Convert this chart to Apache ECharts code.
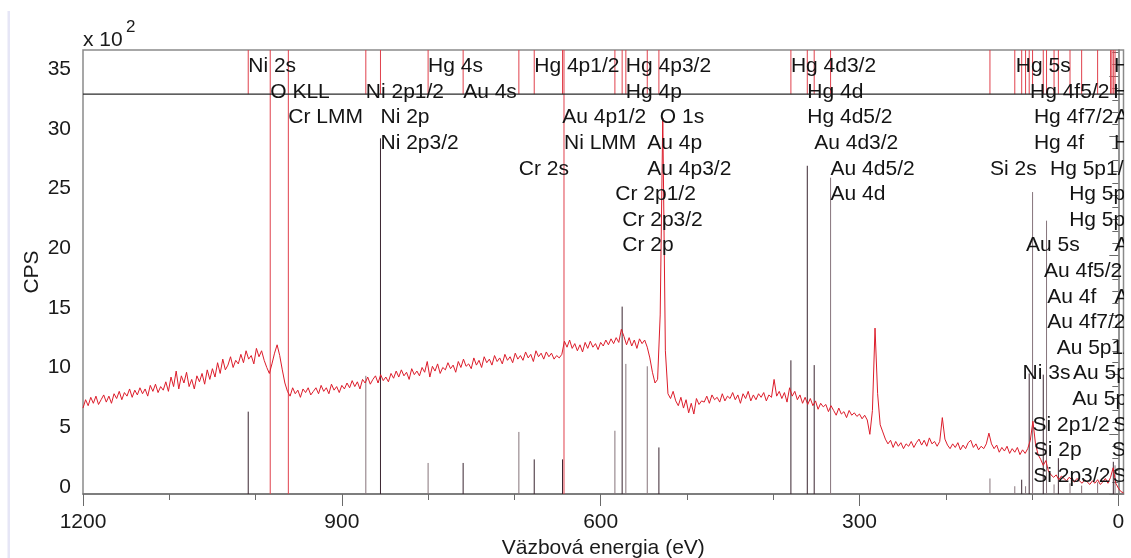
<!DOCTYPE html>
<html>
<head>
<meta charset="utf-8">
<script src="https://cdn.jsdelivr.net/npm/echarts@6.0.0/dist/echarts.min.js"></script>
<style>
  html, body { margin: 0; padding: 0; background: #ffffff; }
  #chart { width: 1131px; height: 558px; }
</style>
</head>
<body>
<div id="chart"></div>
<script>
// XPS survey spectrum, intensity in units of 100 CPS on a 3 eV grid starting at 1200 eV
const energyStart = 1200;
const energyStep = 3;
const cps = [
  7.2, 7.9, 7.4, 8.1, 7.6, 8.2, 7.5, 7.9, 8.3, 7.7,
  8.2, 7.6, 8.4, 8.0, 8.6, 7.9, 8.5, 8.2, 8.8, 8.1,
  8.7, 8.3, 8.9, 8.4, 8.8, 8.2, 9.1, 8.6, 9.2, 8.5,
  9.0, 8.7, 9.4, 8.6, 9.8, 9.0, 10.3, 8.8, 9.9, 9.3,
  10.2, 9.0, 9.6, 8.8, 9.9, 9.4, 10.1, 9.2, 10.4, 9.6,
  10.5, 9.8, 11.0, 10.1, 11.3, 10.4, 10.8, 11.5, 10.6, 11.2,
  10.9, 11.7, 11.0, 12.0, 11.3, 11.6, 10.9, 12.2, 11.5, 12.0,
  11.2, 10.6, 10.1, 10.9, 11.8, 12.5, 11.6, 10.4, 9.3, 8.6,
  8.2, 8.9, 8.4, 8.7, 8.1, 8.8, 8.5, 8.9, 8.3, 8.6,
  8.9, 8.4, 9.1, 8.6, 8.9, 8.4, 9.2, 8.7, 9.0, 8.5,
  9.1, 8.8, 9.3, 8.9, 9.5, 9.0, 9.4, 8.8, 9.6, 9.3,
  9.8, 9.2, 9.6, 9.9, 9.3, 10.0, 9.5, 9.8, 9.4, 10.1,
  9.7, 10.3, 9.8, 10.4, 9.9, 10.2, 9.6, 10.5, 10.0, 10.3,
  9.9, 10.6, 10.2, 11.1, 9.8, 10.7, 10.3, 10.9, 10.1, 10.6,
  10.4, 11.0, 10.5, 10.8, 10.2, 11.1, 10.6, 11.3, 10.7, 10.9,
  10.5, 11.4, 10.8, 11.2, 10.6, 11.5, 11.0, 11.3, 10.8, 11.6,
  11.1, 11.4, 10.9, 11.7, 11.2, 11.5, 11.0, 11.8, 11.3, 11.6,
  11.2, 11.9, 11.4, 11.7, 11.1, 12.0, 11.5, 11.8, 11.3, 11.9,
  11.5, 11.8, 11.3, 11.6, 11.4, 11.7, 12.8, 12.3, 12.9, 12.2,
  12.6, 12.0, 12.5, 11.9, 12.7, 12.2, 12.8, 12.3, 12.6, 12.1,
  12.7, 12.4, 12.9, 12.5, 13.0, 12.6, 13.1, 12.7, 13.8, 13.2,
  12.5, 13.1, 12.4, 12.9, 12.2, 13.0, 12.6, 12.9, 12.3, 11.4,
  10.2, 9.3, 9.6, 15.0, 31.5, 12.0, 8.4, 8.0, 8.6, 7.8,
  7.4, 8.1, 7.2, 7.9, 6.8, 7.6, 6.7, 8.0, 7.5, 7.8,
  7.7, 8.2, 7.6, 8.3, 7.9, 8.1, 7.7, 8.4, 7.8, 8.2,
  8.0, 8.5, 7.9, 8.3, 7.6, 8.4, 8.0, 8.6, 7.8, 8.3,
  7.9, 8.4, 8.1, 8.5, 7.8, 8.3, 8.1, 9.6, 8.2, 8.6,
  8.0, 8.5, 7.7, 8.9, 8.2, 8.6, 7.9, 8.3, 7.6, 8.1,
  7.5, 8.0, 7.4, 7.8, 7.1, 7.6, 7.3, 7.5, 6.9, 7.4,
  7.0, 6.6, 7.2, 6.7, 6.9, 6.4, 7.0, 6.6, 6.8, 6.5,
  6.7, 6.3, 6.6, 6.2, 5.0, 7.0, 13.9, 8.4, 5.8, 5.2,
  4.6, 4.2, 4.5, 3.9, 4.4, 4.0, 4.3, 3.8, 4.2, 4.0,
  4.4, 3.9, 4.3, 4.6, 4.1, 4.5, 4.0, 4.7, 4.2, 4.4,
  4.0, 4.4, 6.4, 4.6, 4.1, 3.8, 4.2, 3.9, 4.3, 3.7,
  4.1, 3.8, 4.3, 4.5, 3.9, 4.2, 3.7, 4.0, 3.8, 4.2,
  5.1, 4.2, 3.8, 4.1, 3.5, 3.9, 3.6, 4.0, 3.4, 3.8,
  3.5, 3.9, 3.3, 3.7, 3.4, 3.8, 4.5, 6.1, 4.2, 3.3,
  2.9, 2.4, 2.8, 1.9, 1.6, 1.4, 1.6, 1.2, 1.5, 1.3,
  1.1, 1.4, 1.2, 1.0, 1.3, 1.1, 0.9, 1.2, 1.0, 0.8,
  1.1, 0.9, 1.2, 0.8, 1.0, 1.3, 0.9, 1.4, 2.2, 0.9,
  0.5, 0.2, 0.1
];

// Reference line positions [binding energy eV, relative height in 100 CPS]
const sticksDark = [
  [1008.5, 6.9], [855.2, 29.8], [759.4, 2.6], [677, 2.9], [644.2, 2.9],
  [575.1, 15.7], [532.5, 3.9], [379.5, 11.2], [360.5, 27.5], [352.5, 10.8],
  [112, 1.2], [103.3, 10.1], [87, 10.0], [69.5, 3.0], [5.8, 2.7]
];
const sticksGray = [
  [872.2, 9.9], [800, 2.6], [694.8, 5.2], [583.5, 5.3], [570.8, 10.9],
  [546, 10.7], [333.5, 26.5], [148.8, 1.3], [120, 0.65], [107.5, 0.65],
  [99.4, 25.3], [83.2, 22.9], [74.5, 0.8], [56, 0.9], [42.5, 0.7],
  [24, 1.0], [3.8, 2.4]
];
// Auger transitions drawn across the whole plot
const augerLines = [983, 962, 642.5];
// Valence-band markers shown only in the label band
const bandOnlyMarkers = [9, 7.5];

// Peak annotations: [text, binding energy of the left edge, stacking row]
const peakLabels = [
  ['Ni 2s', 1008.5, 0], ['Hg 4s', 800, 0], ['Hg 4p1/2', 677, 0], ['Hg 4p3/2', 570.8, 0],
  ['Hg 4d3/2', 379.5, 0], ['Hg 5s', 118.8, 0], ['Hg 5d3/2', 5, 0],
  ['O KLL', 983, 1], ['Ni 2p1/2', 872.2, 1], ['Au 4s', 759.4, 1], ['Hg 4p', 570.8, 1],
  ['Hg 4d', 360.5, 1], ['Hg 4f5/2', 102.4, 1], ['Hg 5d', 5.8, 1],
  ['Cr LMM', 962, 2], ['Ni 2p', 855.2, 2], ['Au 4p1/2', 644.6, 2], ['O 1s', 531.4, 2],
  ['Hg 4d5/2', 360.5, 2], ['Hg 4f7/2', 97.8, 2], ['Au 5d3/2', 4.4, 2],
  ['Ni 2p3/2', 855.2, 3], ['Ni LMM', 642.5, 3], ['Au 4p', 546, 3], ['Au 4d3/2', 352.5, 3],
  ['Hg 4f', 97.8, 3], ['Hg 5d5/2', 5, 3],
  ['Cr 2s', 694.8, 4], ['Au 4p3/2', 546, 4], ['Au 4d5/2', 333.5, 4], ['Si 2s', 148.8, 4],
  ['Hg 5p1/2', 79.2, 4],
  ['Cr 2p1/2', 583, 5], ['Au 4d', 333.5, 5], ['Hg 5p', 57, 5],
  ['Cr 2p3/2', 575, 6], ['Hg 5p3/2', 57, 6],
  ['Cr 2p', 575, 7], ['Au 5s', 107, 7], ['Au 5d', 4.4, 7],
  ['Au 4f5/2', 86.2, 8],
  ['Au 4f', 82.4, 9], ['Au 5d5/2', 4.4, 9],
  ['Au 4f7/2', 82.4, 10],
  ['Au 5p1/2', 71.5, 11],
  ['Ni 3s', 111, 12], ['Au 5p', 52.6, 12],
  ['Au 5p3/2', 53.3, 13],
  ['Si 2p1/2', 99.4, 14], ['Si 3s', 5.8, 14],
  ['Si 2p', 98, 15], ['Si 3p', 7.6, 15],
  ['Si 2p3/2', 98.6, 16], ['Si 3p3/2', 6.5, 16]
];

// Axis ticks
const xLabelValues = [0, 300, 600, 900, 1200];
const xMinorTicks = [100, 200, 400, 500, 700, 800, 1000, 1100];
const yLabelValues = [0, 5, 10, 15, 20, 25, 30, 35];
const yMinorTicks = [1, 2, 3, 4, 6, 7, 8, 9, 11, 12, 13, 14, 16, 17, 18, 19,
  21, 22, 23, 24, 26, 27, 28, 29, 31, 32, 33, 34, 36, 37];

const xMin = -6, xMax = 1200, yMin = 0, yMax = 37.2;
const bandFloor = 33.5;

const FONT = "'Liberation Sans', Arial, Helvetica, sans-serif";
const TEXT = '#1a1a1a';
const RED = '#dc1c2a';
const MARKER_RED = '#e0404c';

const spectrum = cps.map((v, i) => [energyStart - i * energyStep, v]);
const markerEnergies = sticksDark.concat(sticksGray).map(s => s[0]).concat(bandOnlyMarkers);

function vLine(p0, p1, color, width) {
  return {
    type: 'line',
    shape: { x1: p0[0], y1: p0[1], x2: p1[0], y2: p1[1] },
    style: { stroke: color, lineWidth: width }
  };
}

function stickSeries(list, color) {
  return {
    type: 'custom', clip: true, silent: true, z: 2,
    data: list,
    renderItem: (params, api) => {
      const e = api.value(0), h = api.value(1);
      return vLine(api.coord([e, 0]), api.coord([e, h]), color, 1);
    }
  };
}

const chart = echarts.init(document.getElementById('chart'), null, { renderer: 'canvas' });

const axisLineStyle = { color: '#727272', width: 1.5 };
const tickStyle = { color: '#6a6a6a', width: 1 };
const plainNumber = v => String(v);

chart.setOption({
  animation: false,
  backgroundColor: '#ffffff',
  grid: {
    left: 83, top: 50, right: 7.5, bottom: 64,
    outerBoundsMode: 'none', containLabel: false,
    show: true, borderColor: '#8a8a8a', borderWidth: 1.5, backgroundColor: 'transparent'
  },
  xAxis: [
    {
      type: 'value', min: xMin, max: xMax, inverse: true, position: 'bottom',
      name: 'Väzbová energia (eV)', nameLocation: 'middle', nameGap: 41,
      nameTextStyle: { fontFamily: FONT, fontSize: 21, color: TEXT },
      axisLine: { show: true, lineStyle: axisLineStyle },
      axisTick: { show: true, customValues: xLabelValues, length: 12, lineStyle: tickStyle },
      axisLabel: {
        show: true, customValues: xLabelValues, margin: 18, formatter: plainNumber,
        fontFamily: FONT, fontSize: 21, color: TEXT
      },
      splitLine: { show: false }
    },
    {
      type: 'value', min: xMin, max: xMax, inverse: true, position: 'bottom',
      axisLine: { show: false },
      axisTick: { show: true, customValues: xMinorTicks, length: 6, lineStyle: tickStyle },
      axisLabel: { show: false },
      splitLine: { show: false }
    }
  ],
  yAxis: [
    {
      type: 'value', min: yMin, max: yMax, position: 'left',
      name: 'CPS', nameLocation: 'middle', nameGap: 40, nameRotate: 90,
      nameTextStyle: { fontFamily: FONT, fontSize: 21, color: TEXT },
      axisLine: { show: true, lineStyle: axisLineStyle },
      axisTick: { show: true, customValues: yLabelValues, length: 9, lineStyle: tickStyle },
      axisLabel: { show: false },
      splitLine: { show: false }
    },
    {
      type: 'value', min: yMin, max: yMax, position: 'left',
      axisLine: { show: false },
      axisTick: { show: true, customValues: yMinorTicks, length: 6, lineStyle: tickStyle },
      axisLabel: { show: false },
      splitLine: { show: false }
    }
  ],
  graphic: [
    { type: 'rect', shape: { x: 7.5, y: 11, width: 2.5, height: 547 }, style: { fill: '#e6e6f6' }, silent: true },
    { type: 'text', x: 83, y: 40, style: { text: 'x 10', font: '21px ' + FONT, fill: TEXT, verticalAlign: 'middle' }, silent: true },
    { type: 'text', x: 126, y: 27, style: { text: '2', font: '17px ' + FONT, fill: TEXT, verticalAlign: 'middle' }, silent: true }
  ],
  series: [
    // Intensity tick labels, sitting just above their ticks
    {
      type: 'custom', silent: true, z: 4,
      data: yLabelValues.map(v => [xMax, v]),
      renderItem: (params, api) => {
        const cs = params.coordSys;
        const y = api.coord([xMax, api.value(1)])[1];
        return {
          type: 'text',
          style: {
            x: cs.x - 12, y: y - 7, text: String(api.value(1)),
            font: '21px ' + FONT, fill: TEXT, align: 'right', verticalAlign: 'middle'
          }
        };
      }
    },
    // Element reference sticks
    stickSeries(sticksGray, '#86747b'),
    stickSeries(sticksDark, '#3a2530'),
    // Marker ticks in the label band
    {
      type: 'custom', clip: true, silent: true, z: 2,
      data: markerEnergies.map(e => [e, yMax]),
      renderItem: (params, api) => {
        const e = api.value(0);
        return vLine(api.coord([e, bandFloor]), api.coord([e, yMax]), MARKER_RED, 1);
      }
    },
    // Auger lines across the full height
    {
      type: 'custom', clip: true, silent: true, z: 2,
      data: augerLines.map(e => [e, yMax]),
      renderItem: (params, api) => {
        const e = api.value(0);
        return vLine(api.coord([e, yMin]), api.coord([e, yMax]), MARKER_RED, 1);
      }
    },
    // Floor of the label band
    {
      type: 'custom', clip: true, silent: true, z: 2,
      data: [[xMin, bandFloor]],
      renderItem: (params, api) => {
        const cs = params.coordSys;
        const y = api.coord([xMin, bandFloor])[1];
        return vLine([cs.x, y], [cs.x + cs.width, y], '#2a2a2a', 1.2);
      }
    },
    // Measured spectrum
    {
      type: 'line', data: spectrum, symbol: 'none', clip: true, z: 3,
      lineStyle: { color: RED, width: 1 }, itemStyle: { color: RED }
    },
    // Peak labels
    {
      type: 'custom', clip: true, silent: true, z: 4,
      data: peakLabels.map(l => [l[1], yMax]),
      renderItem: (params, api) => {
        const lab = peakLabels[params.dataIndex];
        const cs = params.coordSys;
        const x = api.coord([lab[1], yMax])[0];
        return {
          type: 'text',
          style: {
            x: x, y: cs.y + 16.5 + lab[2] * 25.6,
            text: lab[0], font: '21px ' + FONT, fill: '#141414',
            align: 'left', verticalAlign: 'middle'
          }
        };
      }
    }
  ]
});
</script>
</body>
</html>
